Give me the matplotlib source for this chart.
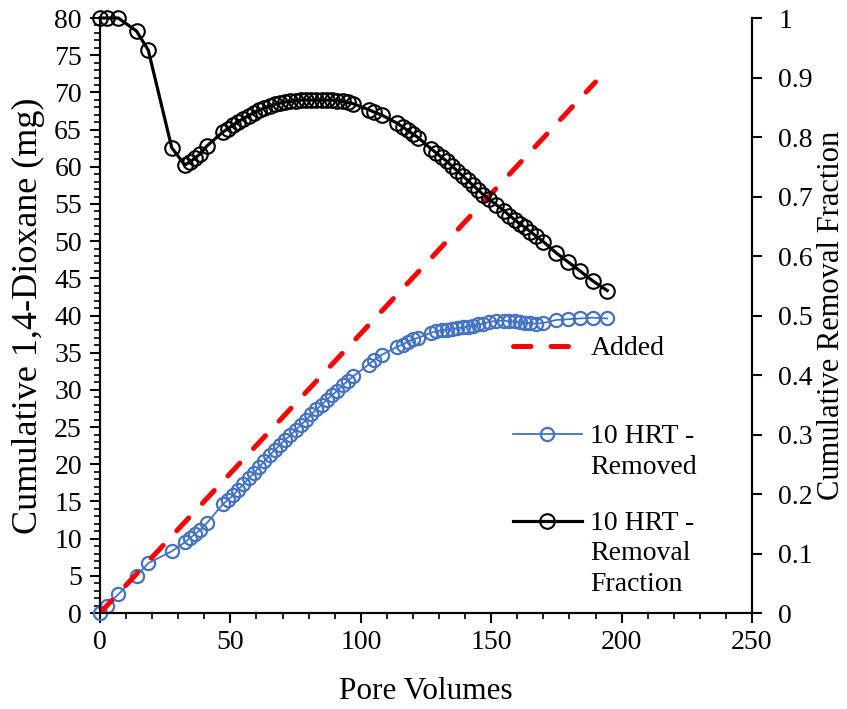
import matplotlib
matplotlib.use("Agg")
import matplotlib.pyplot as plt
from matplotlib.lines import Line2D
from matplotlib.ticker import MultipleLocator, FuncFormatter

plt.rcParams['font.family'] = ['Liberation Serif', 'DejaVu Serif']

# pore volumes sampled
pv = [0, 2.5, 7, 14, 18.5, 27.5, 32.5, 34.5, 36.5, 38.5, 41,
      47, 49, 51, 53, 55, 57, 59, 61, 63, 65, 67, 69, 71, 73, 75, 77, 79,
      81, 83, 85, 87, 89, 91, 93, 95, 97,
      103, 105, 108,
      114, 116, 118, 120, 122,
      127, 129, 131, 133, 135, 137, 139, 141, 143, 145, 147, 149, 152,
      155, 157, 159, 161, 163, 165, 167, 170, 175, 179.5, 184, 189, 194.5]

# cumulative 1,4-dioxane removed (mg)
removed = [0, 1.0, 2.5, 5.0, 6.7, 8.3, 9.5, 10.1, 10.6, 11.2, 12.1,
           14.6, 15.2, 15.8, 16.6, 17.3, 18.1, 18.8, 19.6, 20.4, 21.2, 21.9, 22.6, 23.3, 23.9, 24.6, 25.3, 25.9,
           26.7, 27.4, 28.0, 28.7, 29.3, 29.9, 30.6, 31.2, 31.8,
           33.4, 34.0, 34.7,
           35.8, 36.1, 36.5, 36.8, 37.0,
           37.7, 37.9, 38.0, 38.1, 38.2, 38.3, 38.4, 38.5, 38.6, 38.8, 38.9, 39.1, 39.3,
           39.3, 39.2, 39.2, 39.1, 39.0, 39.0, 38.9, 39.0, 39.4, 39.5, 39.6, 39.7, 39.6]

# cumulative removal fraction
fraction = [1.0, 1.0, 1.0, 0.978, 0.946, 0.782, 0.753, 0.758, 0.765, 0.772, 0.785,
            0.808, 0.814, 0.820, 0.826, 0.831, 0.836, 0.841, 0.845, 0.849, 0.852, 0.855, 0.857, 0.859, 0.860, 0.861, 0.862, 0.862,
            0.862, 0.862, 0.862, 0.862, 0.862, 0.861, 0.860, 0.858, 0.856,
            0.846, 0.842, 0.837,
            0.823, 0.817, 0.811, 0.805, 0.799,
            0.780, 0.773, 0.766, 0.759, 0.751, 0.743, 0.735, 0.727, 0.719, 0.711, 0.703, 0.696, 0.686,
            0.676, 0.668, 0.661, 0.654, 0.648, 0.641, 0.634, 0.624, 0.605, 0.590, 0.575, 0.558, 0.542]

# cumulative mass added (mg)
added_pv = [0, 190]
added = [0, 71.4]

fig = plt.figure(figsize=(8.47, 7.09), dpi=100)
ax = fig.add_axes([0.1181, 0.1354, 0.7697, 0.8392])
ax2 = ax.twinx()

l_rem, = ax.plot(pv, removed, color='#4472C4', lw=1.3, marker='o', ms=9.5,
                 mfc='none', mec='#4472C4', mew=1.6, zorder=2, clip_on=False)
l_add, = ax.plot(added_pv, added, color='#FF0000', lw=3.6, ls=(0, (3.5, 4)),
                 dash_capstyle='round', zorder=3)
l_frac, = ax2.plot(pv, fraction, color='black', lw=2.3, marker='o', ms=10.5,
                   mfc='none', mec='black', mew=1.5, zorder=3, clip_on=False)

ax.set_xlim(0, 250)
ax.set_ylim(0, 80)
ax2.set_ylim(0, 1)

ax.xaxis.set_major_locator(MultipleLocator(50))
ax.xaxis.set_minor_locator(MultipleLocator(10))
ax.yaxis.set_major_locator(MultipleLocator(5))
ax.yaxis.set_minor_locator(MultipleLocator(1))
ax2.yaxis.set_major_locator(MultipleLocator(0.1))
ax2.yaxis.set_major_formatter(FuncFormatter(lambda v, p: '{:g}'.format(round(v, 2))))

for a in (ax, ax2):
    a.spines['top'].set_visible(False)
    for s in a.spines.values():
        s.set_linewidth(1.5)
    a.tick_params(which='major', direction='out', length=7, width=1.5, labelsize=20)
    a.tick_params(which='minor', direction='out', length=4, width=1.2)
ax.tick_params(axis='x', pad=5)
ax.tick_params(axis='y', pad=6)
ax2.tick_params(axis='y', pad=12)

ax.set_xlabel('Pore Volumes', fontsize=22.5)
ax.set_ylabel('Cumulative 1,4-Dioxane (mg)', fontsize=26)
ax2.set_ylabel('Cumulative Removal Fraction', fontsize=22)
ax.xaxis.set_label_coords(0.5, -0.107)
ax.yaxis.set_label_coords(-0.085, 0.5)
ax2.yaxis.set_label_coords(1.1, 0.5)

# legend rows; empty rows keep the gaps between the wrapped entries
blank = Line2D([], [], ls='none')
handles = [l_add, blank, blank, l_rem, blank, blank, l_frac, blank, blank]
labels = ['Added', '', '', '10 HRT -', 'Removed', '', '10 HRT -', 'Removal', 'Fraction']
leg = ax2.legend(handles, labels, loc='upper left', bbox_to_anchor=(0.633, 0.466),
                 frameon=False, fontsize=20, handlelength=2.5, handletextpad=0.3,
                 handleheight=0.5, labelspacing=0.2, borderpad=0, borderaxespad=0,
                 numpoints=1)
leg.get_texts()[2].set_fontsize(13)
leg.get_texts()[5].set_fontsize(8)

fig.savefig('out.png', dpi=100)
